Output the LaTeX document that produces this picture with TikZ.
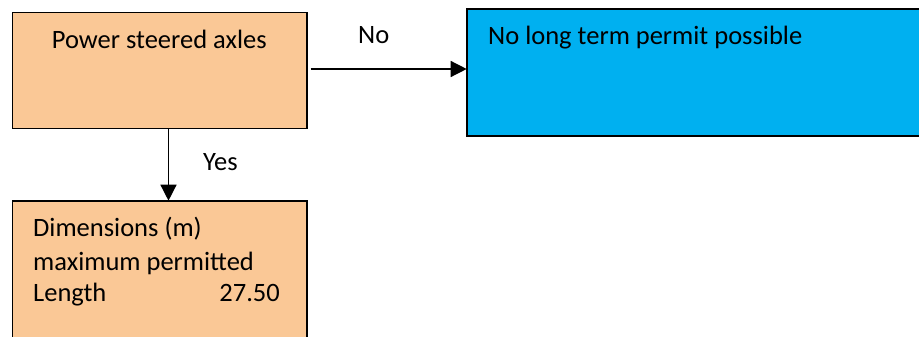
\documentclass[tikz,border=0pt]{standalone}
\usepackage{fontspec}
\setmainfont{Carlito}
\usetikzlibrary{arrows.meta}
\definecolor{peach}{HTML}{FAC896}
\definecolor{skyb}{HTML}{00B0F0}
\begin{document}
\begin{tikzpicture}[x=1pt,y=-1pt,
  box/.style={draw=black, line width=1.6pt, inner sep=0pt, outer sep=0pt, anchor=north west},
  txt/.style={font=\fontsize{26.5}{32.5}\selectfont, inner sep=0pt, anchor=base west},
  arr/.style={line width=1.4pt, -{Triangle[length=16pt,width=16pt]}}]
\useasboundingbox (0,0) rectangle (919,337);
\clip (0,0) rectangle (919,337);
\node[box, fill=peach, minimum width=294.4pt, minimum height=115.6pt] (b1) at (12.3,12.7) {};
\node[box, fill=skyb, minimum width=500pt, minimum height=126.7pt] (b2) at (466.7,9.3) {};
\node[box, fill=peach, minimum width=294.4pt, minimum height=160pt] (b3) at (12.3,200.7) {};
\node[txt, anchor=base] (t1) at (159.3,49) {Power steered axles};
\node[txt] (t2) at (488,45) {No long term permit possible};
\node[txt] (t3) at (33,236.7) {Dimensions (m)};
\node[txt] (t4) at (33,270) {maximum permitted};
\node[txt] (t5) at (33,301.7) {Length};
\node[txt, anchor=base east] (t6) at (280,301.7) {27.50};
\node[txt] (no) at (358,44) {No};
\node[txt] (yes) at (203,170) {Yes};
\draw[arr] ([xshift=4pt,yshift=1.5pt]b1.east) coordinate (s1) -- (s1 -| b2.west);
\draw[arr] ([xshift=9pt]b1.south) coordinate (s2) -- (s2 |- b3.north);
\end{tikzpicture}
\end{document}
